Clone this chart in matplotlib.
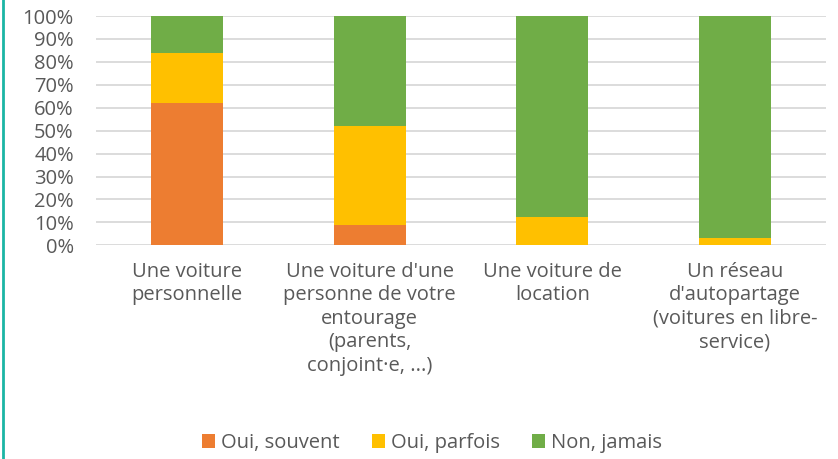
import matplotlib
matplotlib.use("Agg")
import matplotlib.pyplot as plt
from matplotlib.patches import Patch
from matplotlib.lines import Line2D
import numpy as np

categories = [
    "Une voiture\npersonnelle",
    "Une voiture d'une\npersonne de votre\nentourage\n(parents,\nconjoint·e, ...)",
    "Une voiture de\nlocation",
    "Un réseau\nd'autopartage\n(voitures en libre-\nservice)",
]
series_names = ["Oui, souvent", "Oui, parfois", "Non, jamais"]
souvent = [62, 9, 0, 0]
parfois = [22, 43, 12.5, 3]
jamais = [16, 48, 87.5, 97]
colors = ["#ED7D31", "#FFC000", "#70AD47"]
yticks = [0, 10, 20, 30, 40, 50, 60, 70, 80, 90, 100]

plt.rcParams['font.family'] = ['Open Sans', 'DejaVu Sans']
text_color = "#595959"
fs = 14.5

fig = plt.figure(figsize=(8.38, 4.59), dpi=100)
ax = fig.add_axes([96/838, 1-245.3/459, 730/838, (245.3-16)/459])

x = np.arange(len(categories))
bottom = np.zeros(len(categories))
for vals, c, name in zip([souvent, parfois, jamais], colors, series_names):
    ax.bar(x, vals, width=0.395, bottom=bottom, color=c, label=name, zorder=3)
    bottom += np.array(vals)

ax.set_xlim(-0.5, len(categories)-0.5)
ax.set_ylim(0, 100)
ax.set_yticks(yticks)
ax.set_yticklabels([f"{v}%" for v in yticks], fontsize=fs, color=text_color)
ax.yaxis.grid(True, color="#D9D9D9", linewidth=1.3, zorder=0)
ax.set_axisbelow(True)
for s in ax.spines.values():
    s.set_visible(False)
ax.tick_params(axis='both', length=0)
ax.tick_params(axis='y', pad=16)
ax.set_xticks(x)
ax.set_xticklabels(categories, fontsize=fs, color=text_color, linespacing=1.23,
                   multialignment='center')
ax.tick_params(axis='x', pad=12)

handles = [Patch(facecolor=c, edgecolor='none') for c in colors]
fig.legend(handles, series_names, loc='center', bbox_to_anchor=(432/838, 1-443/459),
           ncol=3, frameon=False, fontsize=fs, handlelength=0.65, handleheight=0.65,
           handletextpad=0.3, columnspacing=1.6, labelcolor=text_color)

fig.add_artist(Line2D([3/838, 3/838], [0, 1], color="#1BB5A5", linewidth=2,
                      transform=fig.transFigure))

fig.savefig("out.png", dpi=100)
